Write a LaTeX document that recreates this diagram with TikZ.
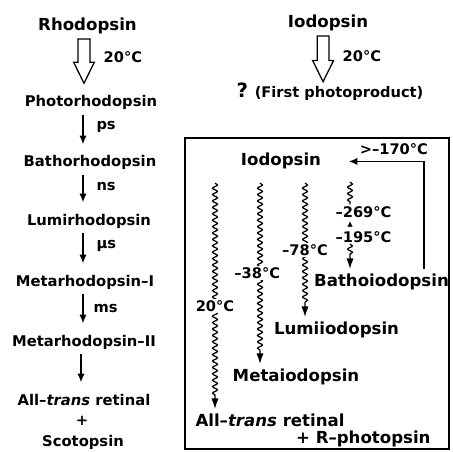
\documentclass[tikz,border=0pt]{standalone}
\usepackage{fontspec}
\setmainfont{DejaVu Sans}
\usetikzlibrary{arrows.meta,calc,decorations.pathmorphing}

\tikzset{
  title/.style={font=\fontsize{11.8}{14}\selectfont\bfseries, inner sep=3pt},
  stage/.style={font=\fontsize{10.5}{13}\selectfont\bfseries, inner sep=3pt},
  temp/.style={font=\fontsize{10.4}{12}\selectfont\bfseries, inner sep=1pt},
  fast/.style={line width=1.2pt, shorten >=4.8pt, -{Latex[length=2.2mm,width=1.8mm]}},
  wiggle/.style={line width=0.9pt, decorate, decoration={snake, amplitude=0.06cm, segment length=0.16cm}},
  wavy/.style={wiggle, decoration={post length=3mm}, -{Latex[length=2.6mm,width=1.8mm]}},
  hollow/.style={line width=0.9pt, to path={let \p1=(\tikztostart), \p2=(\tikztotarget) in
      (\x1-4.2pt,\y1) -- (\x1+4.2pt,\y1) -- (\x1+4.2pt,\y2+15pt) -- (\x1+7.4pt,\y2+15pt)
      -- (\x1,\y2) -- (\x1-7.4pt,\y2+15pt) -- (\x1-4.2pt,\y2+15pt) -- cycle}}
}

\begin{document}
\begin{tikzpicture}[x=0.025cm, y=-0.025cm]
\useasboundingbox (0,0) rectangle (452,452);

% Rhodopsin
\node[title, anchor=base] (rho) at (87.5,31) {Rhodopsin};
\node[stage, anchor=base] (photo) at (91,107) {Photorhodopsin};
\node[stage, anchor=base] (bathoR) at (90,167) {Bathorhodopsin};
\node[stage, anchor=base] (lumiR) at (89,225) {Lumirhodopsin};
\node[stage, anchor=base] (metaRI) at (85,286) {Metarhodopsin--I};
\node[stage, anchor=base] (metaRII) at (84,346) {Metarhodopsin--II};
\node[stage, anchor=base] (transR) at (84,405) {All--\textit{trans} retinal};
\node[stage] (plusR) at (82,421) {+};
\node[stage, anchor=base] (scoto) at (83,446) {Scotopsin};

\draw[hollow] ([xshift=-2.5pt]rho.south) to ([yshift=5.7pt]photo.north);
\node[temp, anchor=base west] (t20R) at (102,63) {20°C};

\draw[fast] (photo.south -| 83,0) -- node[temp, right=8pt, pos=0.35] {ps} (bathoR.north -| 83,0);
\draw[fast] (bathoR.south -| 83,0) -- node[temp, right=8pt, pos=0.35] {ns} (lumiR.north -| 83,0);
\draw[fast] (lumiR.south -| 83,0) -- node[temp, right=8pt, pos=0.35] {μs} (metaRI.north -| 83,0);
\draw[fast] (metaRI.south -| 83,0) -- node[temp, right=6pt, pos=0.4] {ms} (metaRII.north -| 83,0);
\draw[fast] (metaRII.south -| 81,0) -- (transR.north -| 81,0);

% Iodopsin
\node[title, anchor=base] (iodo) at (328,28) {Iodopsin};
\node[temp, anchor=base] (first) at (330,98) {{\fontsize{14}{16}\selectfont ?} (First photoproduct)};
\draw[hollow] ([xshift=-3.5pt]iodo.south) to (first.north);
\node[temp, anchor=base west] (t20I) at (341,62) {20°C};

% Low temperature box
\draw[line width=1.3pt] (185,138) rectangle (449,449);

\node[title, anchor=base] (iodoB) at (281,166) {Iodopsin};
\node[title, anchor=base] (bathoI) at (381.5,286) {Bathoiodopsin};
\node[title, anchor=base] (lumiI) at (336.5,334) {Lumiiodopsin};
\node[title, anchor=base] (metaI) at (296,381) {Metaiodopsin};
\node[title, anchor=base west] (transI) at (191,426) {All--\textit{trans} retinal};
\node[title, anchor=base east] (opsinI) at (435,443) {+ R--photopsin};

\coordinate (w1) at (215,183);
\coordinate (w2) at (260,183);
\coordinate (w3) at (305,183);
\coordinate (w4) at (350,182);

\draw[wavy] (w1) -- node[temp, fill=white, pos=0.545] {20°C} (w1 |- transI.north);
\draw[wavy] (w2) -- node[temp, fill=white, pos=0.5, xshift=-2pt] {--38°C} (w2 |- metaI.north);
\draw[wavy] (w3) -- node[temp, fill=white, pos=0.5] {--78°C} (w3 |- lumiI.north);

\node[temp, anchor=base] (t269) at (363.5,217) {--269°C};
\node[temp, anchor=base] (t195) at (363.5,242) {--195°C};
\draw[wiggle] (w4) -- (w4 |- t269.north);
\draw[line width=0.9pt, -{Latex[length=1.4mm,width=1.4mm]}, shorten <=1.5pt, shorten >=1.5pt] (w4 |- t195.north) -- (w4 |- t269.south);
\draw[wavy] (w4 |- t195.south) -- (w4 |- bathoI.north);

% back reaction
\draw[fast, shorten >=0pt] (bathoI.north -| 424,0) |- node[temp, above=3pt, pos=0.7] {>--170°C} ([xshift=0.575cm]iodoB.east);

\end{tikzpicture}
\end{document}
